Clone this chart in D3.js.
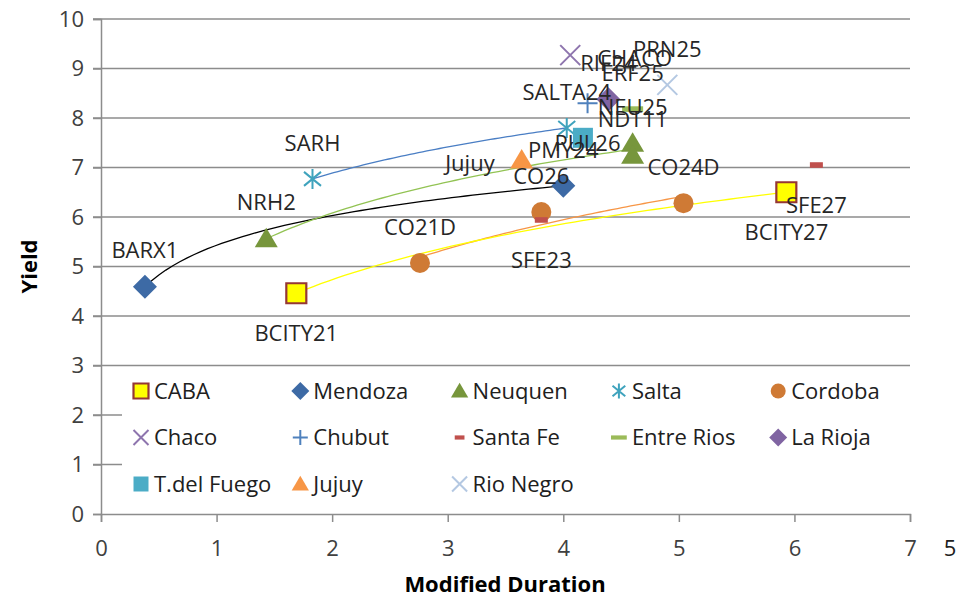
<!DOCTYPE html>
<html>
<head>
<meta charset="utf-8">
<script src="https://cdn.jsdelivr.net/npm/d3@7"></script>
<style>
  body { margin: 0; background: #fff; }
  text { font-family: "Open Sans", "Noto Sans", sans-serif; }
</style>
</head>
<body>
<div id="chart"></div>
<script>
// series names in legend order
const seriesNames = ["CABA", "Mendoza", "Neuquen", "Salta", "Cordoba",
                     "Chaco", "Chubut", "Santa Fe", "Entre Rios", "La Rioja",
                     "T.del Fuego", "Jujuy", "Rio Negro"];

// points per series: [modified duration, yield, label]
const caba      = [[1.69, 4.46, "BCITY21"], [5.93, 6.50, "BCITY27"]];
const mendoza   = [[0.38, 4.59, "BARX1"], [4.00, 6.63, "PMY24"]];
const neuquen   = [[1.43, 5.56, "NRH2"], [4.60, 7.49, "NEU25"], [4.60, 7.25, "NDT11"]];
const salta     = [[1.83, 6.77, "SARH"], [4.03, 7.80, "SALTA24"]];
const cordoba   = [[2.76, 5.07, "CO21D"], [3.81, 6.10, "CO26"], [5.04, 6.28, "CO24D"]];
const chaco     = [[4.06, 9.27, "CHACO"]];
const chubut    = [[4.21, 8.30, "PUL26"]];
const santaFe   = [[3.81, 5.94, "SFE23"], [6.19, 7.05, "SFE27"]];
const entreRios = [[4.60, 8.18, "ERF25"]];
const laRioja   = [[4.39, 8.38, "RIF24"]];
const tdFuego   = [[4.17, 7.60, ""]];
const jujuy     = [[3.64, 7.15, "Jujuy"]];
const rioNegro  = [[4.90, 8.67, "PRN25"]];

const seriesValues = [caba, mendoza, neuquen, salta, cordoba, chaco, chubut,
                      santaFe, entreRios, laRioja, tdFuego, jujuy, rioNegro];

// series that carry a logarithmic trendline
const trendSeries = ["Mendoza", "Salta", "Neuquen", "Cordoba", "CABA"];

const xTicks = [0, 1, 2, 3, 4, 5, 6, 7];
const yTicks = [0, 1, 2, 3, 4, 5, 6, 7, 8, 9, 10];

// look of each series
const style = {
  "CABA":        { shape: "square",   fill: "#ffff00", stroke: "#953735", trend: "#ffff00" },
  "Mendoza":     { shape: "diamond",  fill: "#3d6aa5", trend: "#000000" },
  "Neuquen":     { shape: "triangle", fill: "#77963c", trend: "#92c353" },
  "Salta":       { shape: "asterisk", stroke: "#3fa3bd", trend: "#4a7ec4" },
  "Cordoba":     { shape: "circle",   fill: "#cf7a35", trend: "#f79646" },
  "Chaco":       { shape: "x",        stroke: "#8e75ae" },
  "Chubut":      { shape: "plus",     stroke: "#4f81bd" },
  "Santa Fe":    { shape: "dash",     fill: "#c0504d" },
  "Entre Rios":  { shape: "longdash", fill: "#9bbb59" },
  "La Rioja":    { shape: "diamond",  fill: "#8064a2" },
  "T.del Fuego": { shape: "square",   fill: "#4bacc6" },
  "Jujuy":       { shape: "triangle", fill: "#f79646" },
  "Rio Negro":   { shape: "x",        stroke: "#b4c8e2" }
};

// where data labels sit relative to their point (default: above)
const labelPlace = { BCITY21: "below", BCITY27: "below", SFE23: "below", SFE27: "below",
                     PUL26: "below", CHACO: "right", Jujuy: "left" };

const W = 961, H = 598;
const margin = { top: 19, left: 101, right: 51, bottom: 84 };
const width = W - margin.left - margin.right;
const height = H - margin.top - margin.bottom;

const svg = d3.select("#chart").append("svg")
  .attr("width", W).attr("height", H);

const x = d3.scaleLinear().domain([0, 7]).range([0, width]);
const y = d3.scaleLinear().domain([0, 10]).range([height, 0]);

const g = svg.append("g").attr("transform", `translate(${margin.left},${margin.top})`);

// marker outlines around (0,0)
function markerPath(shape, s) {
  switch (shape) {
    case "square":   return `M${-s},${-s}H${s}V${s}H${-s}Z`;
    case "diamond":  return `M0,${-s * 1.2}L${s * 1.2},0L0,${s * 1.2}L${-s * 1.2},0Z`;
    case "triangle": return `M0,${-s * 1.1}L${s * 1.15},${s * 0.85}L${-s * 1.15},${s * 0.85}Z`;
    case "circle":   return `M${-s},0A${s},${s} 0 1,0 ${s},0A${s},${s} 0 1,0 ${-s},0Z`;
    case "x":        return `M${-s},${-s}L${s},${s}M${-s},${s}L${s},${-s}`;
    case "plus":     return `M${-s},0H${s}M0,${-s}V${s}`;
    case "asterisk": return `M${-s * 0.85},${-s * 0.7}L${s * 0.85},${s * 0.7}M${-s * 0.85},${s * 0.7}L${s * 0.85},${-s * 0.7}M0,${-s}V${s}`;
    case "dash":     return `M${-s * 0.65},${-s * 0.28}H${s * 0.65}V${s * 0.28}H${-s * 0.65}Z`;
    case "longdash": return `M${-s * 1.05},${-s * 0.28}H${s * 1.05}V${s * 0.28}H${-s * 1.05}Z`;
  }
}

function drawMarker(sel, name, s) {
  const st = style[name];
  const lineOnly = ["x", "plus", "asterisk"].includes(st.shape);
  sel.append("path")
    .attr("d", markerPath(st.shape, s))
    .attr("fill", lineOnly ? "none" : st.fill)
    .attr("stroke", lineOnly ? st.stroke : (st.stroke || "none"))
    .attr("stroke-width", lineOnly ? 2 : (st.stroke ? 2.2 : 0));
}

// gridlines
g.append("g").selectAll("line")
  .data(yTicks.filter(d => d > 0))
  .enter().append("line")
    .attr("x1", -8).attr("x2", width)
    .attr("y1", d => y(d)).attr("y2", d => y(d))
    .attr("stroke", "#8c8c8c").attr("stroke-width", 1.5);

// axes
const yAxis = g.append("g")
  .call(d3.axisLeft(y).tickValues(yTicks).tickSize(8).tickPadding(9));
const xAxis = g.append("g")
  .attr("transform", `translate(0,${height})`)
  .call(d3.axisBottom(x).tickValues(xTicks).tickFormat(d3.format("d")).tickSize(8).tickPadding(18));

[xAxis, yAxis].forEach(a => {
  a.select(".domain").attr("stroke", "#8c8c8c").attr("stroke-width", 1.5);
  a.selectAll(".tick line").attr("stroke", "#8c8c8c").attr("stroke-width", 1.5);
  a.selectAll(".tick text").attr("fill", "#404040")
    .style("font-size", "22px").style("font-family", "Open Sans");
});

// stray label right of the x axis
svg.append("text")
  .attr("x", 950).attr("y", 556)
  .attr("text-anchor", "middle")
  .attr("fill", "#202020").style("font-size", "22px")
  .text("5");

// axis titles
svg.append("text")
  .attr("transform", `translate(37,${margin.top + height / 2}) rotate(-90)`)
  .attr("text-anchor", "middle")
  .attr("fill", "#000").style("font-size", "22px").style("font-weight", "bold")
  .text("Yield");
svg.append("text")
  .attr("x", 505).attr("y", 592)
  .attr("text-anchor", "middle")
  .attr("fill", "#000").style("font-size", "22px").style("font-weight", "bold")
  .text("Modified Duration");

// logarithmic trendlines, least squares of y on ln(x)
trendSeries.forEach(name => {
  const pts = seriesValues[seriesNames.indexOf(name)];
  const lx = pts.map(p => Math.log(p[0]));
  const mx = d3.mean(lx), my = d3.mean(pts, p => p[1]);
  const b = d3.sum(pts, (p, i) => (lx[i] - mx) * (p[1] - my)) / d3.sum(lx, v => (v - mx) * (v - mx));
  const a = my - b * mx;
  const [x0, x1] = d3.extent(pts, p => p[0]);
  const curve = d3.range(0, 61).map(i => {
    const xv = x0 + (x1 - x0) * i / 60;
    return [xv, a + b * Math.log(xv)];
  });
  g.append("path")
    .datum(curve)
    .attr("fill", "none")
    .attr("stroke", style[name].trend)
    .attr("stroke-width", 1.3)
    .attr("d", d3.line().x(d => x(d[0])).y(d => y(d[1])));
});

// markers
seriesNames.forEach((name, i) => {
  g.append("g").selectAll("g")
    .data(seriesValues[i])
    .enter().append("g")
      .attr("transform", d => `translate(${x(d[0])},${y(d[1])})`)
      .each(function () { drawMarker(d3.select(this), name, 10); });
});

// data labels
const labels = [];
seriesValues.forEach(pts => pts.forEach(p => { if (p[2]) labels.push(p); }));
g.append("g").selectAll("text")
  .data(labels)
  .enter().append("text")
    .attr("x", d => {
      const pl = labelPlace[d[2]];
      return x(d[0]) + (pl === "right" ? 27 : pl === "left" ? -27 : 0);
    })
    .attr("y", d => {
      const pl = labelPlace[d[2]];
      return y(d[1]) + (pl === "below" ? 40 : pl === "above" || !pl ? -36 : 3);
    })
    .attr("dy", "0.35em")
    .attr("text-anchor", d => {
      const pl = labelPlace[d[2]];
      return pl === "right" ? "start" : pl === "left" ? "end" : "middle";
    })
    .attr("fill", "#262626")
    .style("font-size", "22px")
    .text(d => d[2]);

// legend
const legend = svg.append("g");
legend.append("rect")
  .attr("x", 122).attr("y", 371).attr("width", 790).attr("height", 135)
  .attr("fill", "#fff");
const item = legend.selectAll("g.item")
  .data(seriesNames)
  .enter().append("g")
    .attr("class", "item")
    .attr("transform", (d, i) => `translate(${141 + (i % 5) * 159.3},${391 + Math.floor(i / 5) * 46.5})`);
item.each(function (d) { drawMarker(d3.select(this), d, 7.5); });
item.append("text")
  .attr("x", 13).attr("dy", "0.35em")
  .attr("fill", "#202020")
  .style("font-size", "22px")
  .text(d => d);
</script>
</body>
</html>
